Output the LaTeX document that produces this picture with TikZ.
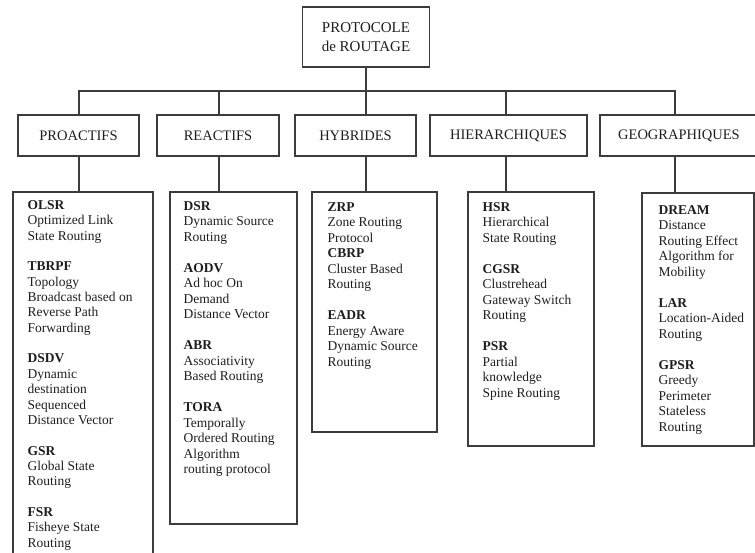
\documentclass[tikz,border=0pt]{standalone}
\usepackage{fontspec}
\setmainfont{Liberation Serif}
\definecolor{linec}{HTML}{3C3C3C}
\definecolor{inkc}{HTML}{1E1E1E}
\begin{document}
\begin{tikzpicture}[x=1pt,y=-1pt,
  every node/.style={inner sep=0pt, text=inkc},
  frame/.style={draw=linec, line width=1.3pt, rectangle},
  topbox/.style={frame, minimum width=127pt, minimum height=60pt, align=center,
    font=\fontsize{15}{18.5}\selectfont},
  catbox/.style={frame, minimum height=41pt, font=\fontsize{14.5}{17}\selectfont},
  listbox/.style={frame},
  listtext/.style={anchor=north west, align=left, font=\fontsize{13.5}{15.5}\selectfont},
  link/.style={draw=linec, line width=1.3pt, line join=miter}]
\useasboundingbox (0,0) rectangle (755,553);
\clip (0,0) rectangle (755,553);

% root
\node[topbox] (root) at (366,37) {PROTOCOLE\\de ROUTAGE};

% families
\node[catbox, minimum width=121pt] (pro) at (78.5,135.5) {PROACTIFS};
\node[catbox, minimum width=122pt] (rea) at (218,135.5) {REACTIFS};
\node[catbox, minimum width=121pt] (hyb) at (355.5,135.5) {HYBRIDES};
\node[catbox, minimum width=157pt] (hie) at (508.5,135.5) {HIERARCHIQUES};
\node[catbox, minimum width=158pt] (geo) at (679,135.5) {GEOGRAPHIQUES};

% protocol lists
\node[listbox, minimum width=140pt, minimum height=372pt] (olsr) at (83,378) {};
\node[listbox, minimum width=127pt, minimum height=332pt] (dsr) at (233.5,358) {};
\node[listbox, minimum width=125pt, minimum height=240pt] (zrp) at (374.5,312) {};
\node[listbox, minimum width=126pt, minimum height=254pt] (hsr) at (531,319) {};
\node[listbox, minimum width=112pt, minimum height=253pt] (dream) at (698,319.5) {};

\node[listtext, font=\fontsize{13.5}{15.35}\selectfont] (olsrtxt)
  at ([xshift=15pt,yshift=-9pt]olsr.north west)
  {\textbf{OLSR}\\Optimized Link\\State Routing\\[15.35pt]
   \textbf{TBRPF}\\Topology\\Broadcast based on\\Reverse Path\\Forwarding\\[15.35pt]
   \textbf{DSDV}\\Dynamic\\destination\\Sequenced\\Distance Vector\\[15.35pt]
   \textbf{GSR}\\Global State\\Routing\\[15.35pt]
   \textbf{FSR}\\Fisheye State\\Routing};
\node[listtext] (dsrtxt) at ([xshift=14pt,yshift=-10pt]dsr.north west)
  {\textbf{DSR}\\Dynamic Source\\Routing\\[15.5pt]
   \textbf{AODV}\\Ad hoc On\\Demand\\Distance Vector\\[15.5pt]
   \textbf{ABR}\\Associativity\\Based Routing\\[15.5pt]
   \textbf{TORA}\\Temporally\\Ordered Routing\\Algorithm\\routing protocol};
\node[listtext] (zrptxt) at ([xshift=16pt,yshift=-11pt]zrp.north west)
  {\textbf{ZRP}\\Zone Routing\\Protocol\\
   \textbf{CBRP}\\Cluster Based\\Routing\\[15.5pt]
   \textbf{EADR}\\Energy Aware\\Dynamic Source\\Routing};
\node[listtext] (hsrtxt) at ([xshift=15pt,yshift=-11pt]hsr.north west)
  {\textbf{HSR}\\Hierarchical\\State Routing\\[15.5pt]
   \textbf{CGSR}\\Clustrehead\\Gateway Switch\\Routing\\[15.5pt]
   \textbf{PSR}\\Partial\\knowledge\\Spine Routing};
\node[listtext] (dreamtxt) at ([xshift=17pt,yshift=-13pt]dream.north west)
  {\textbf{DREAM}\\Distance\\Routing Effect\\Algorithm for\\Mobility\\[15.5pt]
   \textbf{LAR}\\Location-Aided\\Routing\\[15.5pt]
   \textbf{GPSR}\\Greedy\\Perimeter\\Stateless\\Routing};

% bus junctions
\coordinate (j1) at (79,91);
\coordinate (j2) at (219,91);
\coordinate (j3) at (366,91);
\coordinate (j4) at (506,91);
\coordinate (j5) at (675,91);

% connectors
\draw[link] (root.south) -- (j3);
\draw[link] (j1 |- pro.north) -- (j1) -- (j5) -- (j5 |- geo.north);
\draw[link] (j2) -- (j2 |- rea.north);
\draw[link] (j3) -- (j3 |- hyb.north);
\draw[link] (j4) -- (j4 |- hie.north);

\draw[link] (j1 |- pro.south) -- (j1 |- olsr.north);
\draw[link] (j2 |- rea.south) -- (j2 |- dsr.north);
\draw[link] (j3 |- hyb.south) -- (j3 |- zrp.north);
\draw[link] (j4 |- hie.south) -- (j4 |- hsr.north);
\draw[link] (j5 |- geo.south) -- (j5 |- dream.north);
\end{tikzpicture}
\end{document}
